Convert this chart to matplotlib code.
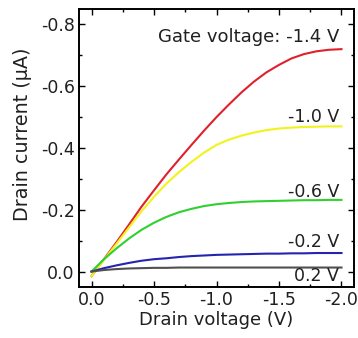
import matplotlib
matplotlib.use("Agg")
import matplotlib.pyplot as plt
from matplotlib.ticker import MultipleLocator

# drain voltage (V) and drain current (uA)
drain_v = [0.0, -0.1, -0.2, -0.3, -0.4, -0.5, -0.6, -0.7, -0.8, -0.9, -1.0,
           -1.1, -1.2, -1.3, -1.4, -1.5, -1.6, -1.7, -1.8, -1.9, -2.0]
i_m14 = [0.015, -0.04, -0.095, -0.152, -0.21, -0.263, -0.315, -0.363, -0.41, -0.456, -0.50,
         -0.541, -0.58, -0.615, -0.645, -0.669, -0.69, -0.704, -0.713, -0.718, -0.72]
i_m10 = [0.015, -0.038, -0.09, -0.143, -0.195, -0.242, -0.285, -0.322, -0.355, -0.385, -0.41,
         -0.427, -0.44, -0.45, -0.458, -0.463, -0.466, -0.468, -0.469, -0.47, -0.47]
i_m06 = [0.0, -0.04, -0.075, -0.107, -0.135, -0.158, -0.177, -0.192, -0.203, -0.212, -0.218,
         -0.222, -0.225, -0.227, -0.228, -0.229, -0.23, -0.231, -0.231, -0.232, -0.232]
i_m02 = [0.0, -0.011, -0.02, -0.028, -0.035, -0.04, -0.043, -0.047, -0.05, -0.052, -0.054,
         -0.055, -0.056, -0.057, -0.058, -0.058, -0.059, -0.059, -0.06, -0.06, -0.06]
i_p02 = [0.0, -0.005, -0.008, -0.01, -0.011, -0.012, -0.012, -0.013, -0.013, -0.013, -0.013,
         -0.013, -0.013, -0.013, -0.013, -0.013, -0.013, -0.013, -0.013, -0.013, -0.013]

labels = ["Gate voltage: -1.4 V", "-1.0 V", "-0.6 V", "-0.2 V", "0.2 V"]
label_y = [-0.76, -0.50, -0.258, -0.097, 0.016]
colors = ["#e0202c", "#f2f21c", "#2fd02f", "#2424b0", "#505050"]

fig = plt.figure(figsize=(3.58, 3.38), dpi=100)
ax = fig.add_axes([0.2207, 0.1509, 0.7681, 0.8225])

for y, c in zip([i_m14, i_m10, i_m06, i_m02, i_p02], colors):
    ax.plot(drain_v, y, color=c, lw=1.5)

for txt, y in zip(labels, label_y):
    fs = 13 if txt.startswith("Gate") else 12.5
    ax.text(-1.98, y, txt, ha="right", va="center", fontsize=fs, color="#202020")

ax.set_xlim(0.1, -2.1)
ax.set_ylim(0.05, -0.85)
ax.xaxis.set_minor_locator(MultipleLocator(0.25))
ax.yaxis.set_minor_locator(MultipleLocator(0.1))
ax.set_xticks([0, -0.5, -1.0, -1.5, -2.0])
ax.set_xticklabels(["0.0", "-0.5", "-1.0", "-1.5", "-2.0"])
ax.set_yticks([0, -0.2, -0.4, -0.6, -0.8])
ax.set_yticklabels(["0.0", "-0.2", "-0.4", "-0.6", "-0.8"])
ax.tick_params(which="both", direction="in", top=True, right=True,
               labelsize=12.5, width=1, labelcolor="#202020")
ax.tick_params(which="major", length=4, pad=3)
ax.tick_params(which="minor", length=2.5)
for s in ax.spines.values():
    s.set_linewidth(1.4)

ax.set_xlabel("Drain voltage (V)", fontsize=13, labelpad=1, color="#202020")
ax.set_ylabel("Drain current (\u03bcA)", fontsize=13.8, color="#202020")
ax.yaxis.set_label_coords(-0.17, 0.55)

fig.savefig("out.png", dpi=100)
